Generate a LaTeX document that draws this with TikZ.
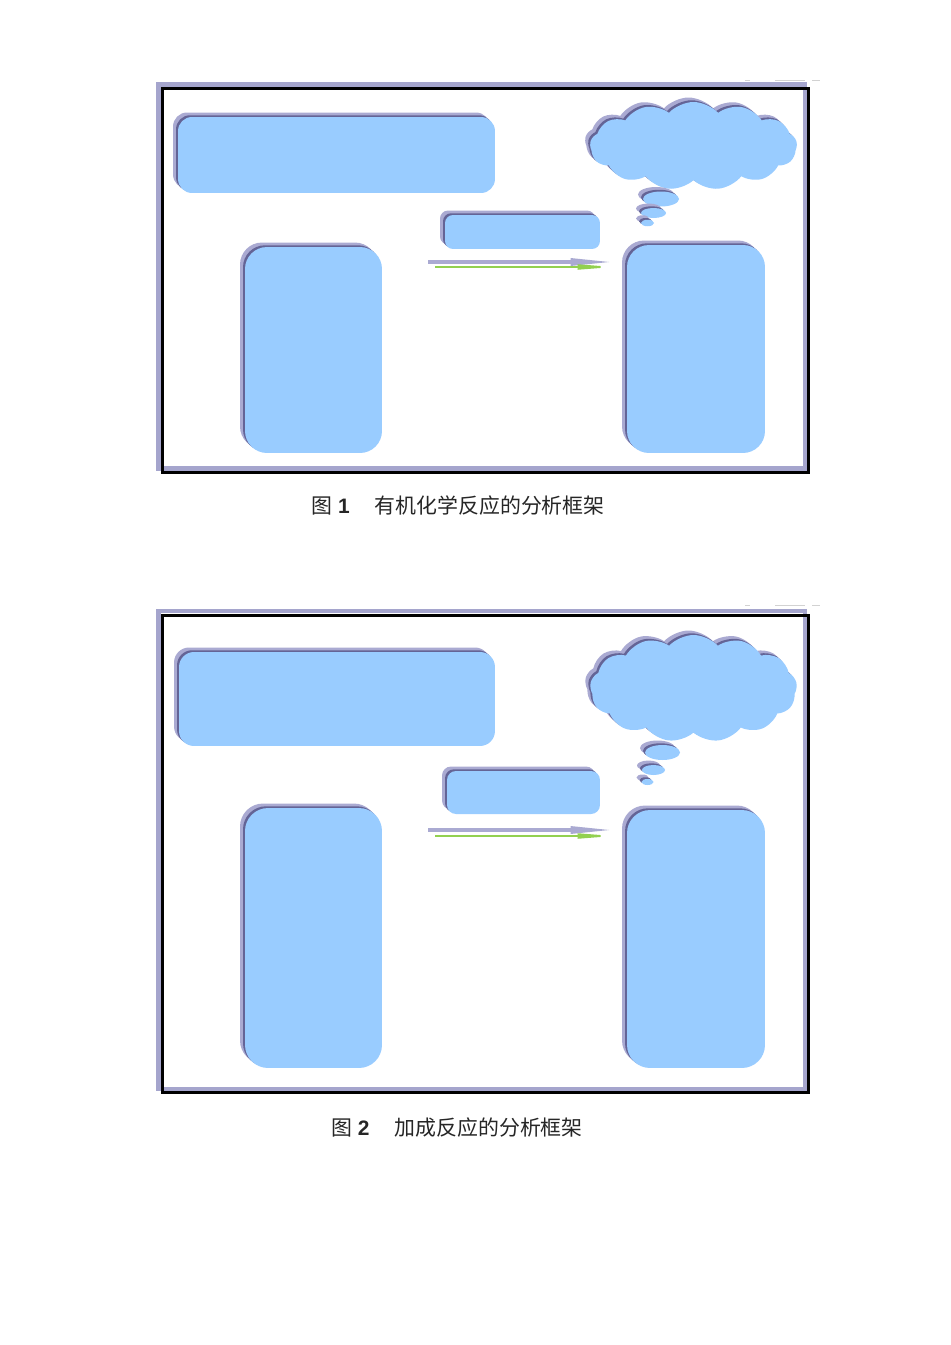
\documentclass[tikz,border=0pt]{standalone}
\usepackage{fontspec}
\setmainfont{Liberation Sans}
\newfontfamily\cjk{Noto Sans CJK SC}
\usetikzlibrary{shapes.symbols,shapes.geometric,shadows,arrows.meta}
\definecolor{boxblue}{RGB}{153,204,255}
\definecolor{shadelight}{RGB}{170,170,210}
\definecolor{shadedark}{RGB}{100,100,150}
\definecolor{framelav}{RGB}{165,165,205}
\definecolor{arrowgreen}{RGB}{146,208,80}

\begin{document}
\begin{tikzpicture}[x=0.02cm, y=-0.02cm,
    shade2/.style={
        general shadow={fill=shadelight, shadow xshift=-0.1cm, shadow yshift=0.09cm},
        general shadow={fill=shadedark, shadow xshift=-0.04cm, shadow yshift=0.035cm}},
    box/.style={shape=rectangle, rounded corners=#1, fill=boxblue, inner sep=0pt, shade2},
    puff/.style={shape=ellipse, fill=boxblue, inner sep=0pt, shade2},
    think/.style={shape=cloud, cloud puffs=13, cloud puff arc=95, cloud ignores aspect,
        fill=boxblue, inner sep=0pt, shade2},
    frame/.style={shape=rectangle, draw=black, line width=1.7pt, inner sep=0pt,
        preaction={draw=framelav, line width=2.6pt, transform canvas={xshift=-0.08cm, yshift=0.08cm}}},
    flow/.style={draw=arrowgreen, line width=1.1pt, -{Triangle[length=0.75cm, width=0.1cm]}},
    flowshade/.style={draw=shadelight, line width=1.8pt, -{Triangle[length=0.85cm, width=0.14cm]}},
    caption/.style={font=\fontsize{11.9pt}{14pt}\selectfont, text=black!85}]
    \useasboundingbox[fill=white] (0,0) rectangle (950,1345);

    % figure 1
    \draw[gray!35, line width=0.5pt] (745,80) -- (750,80) (775,80) -- (805,80) (812,80) -- (820,80);
    \node[frame, minimum width=12.93cm, minimum height=7.68cm] at (485.75,280.5) (F1) {};
    \node[box=0.28cm, minimum width=6.34cm, minimum height=1.52cm] at (336.5,155) (T1) {};
    \node[think, minimum width=4.14cm, minimum height=1.76cm] at (693.5,146) (C1) {};
    \node[puff, minimum width=0.72cm, minimum height=0.3cm] at (661,199) (C1a) {};
    \node[puff, minimum width=0.5cm, minimum height=0.2cm] at (653.5,213) (C1b) {};
    \node[puff, minimum width=0.26cm, minimum height=0.13cm] at (647.5,223) (C1c) {};
    \node[box=0.16cm, minimum width=3.1cm, minimum height=0.68cm] at (522.5,232) (M1) {};
    \node[box=0.44cm, minimum width=2.74cm, minimum height=4.12cm] at (313.5,350) (L1) {};
    \node[box=0.44cm, minimum width=2.76cm, minimum height=4.16cm] at (696,349) (R1) {};
    \coordinate (A1s) at (435,267);
    \coordinate (A1e) at (615,267);
    \draw[flowshade] ([shift={(-7,-5)}]A1s) -- ([shift={(-2,-5)}]A1e);
    \draw[flow] (A1s) -- (A1e);
    \node[caption] at (458,506) (cap1) {{\cjk 图}~\textbf{1}\hspace{1.2em}{\cjk 有机化学反应的分析框架}};

    % figure 2
    \draw[gray!35, line width=0.5pt] (745,605) -- (750,605) (775,605) -- (805,605) (812,605) -- (820,605);
    \node[frame, minimum width=12.93cm, minimum height=9.56cm] at (485.75,854) (F2) {};
    \node[box=0.3cm, minimum width=6.32cm, minimum height=1.88cm] at (337,699) (T2) {};
    \node[think, minimum width=4.14cm, minimum height=2.14cm] at (693.5,688.5) (C2) {};
    \node[puff, minimum width=0.7cm, minimum height=0.3cm] at (662.5,752.5) (C2a) {};
    \node[puff, minimum width=0.46cm, minimum height=0.2cm] at (653.5,770) (C2b) {};
    \node[puff, minimum width=0.24cm, minimum height=0.12cm] at (647.5,782) (C2c) {};
    \node[box=0.18cm, minimum width=3.06cm, minimum height=0.86cm] at (523.5,792.5) (M2) {};
    \node[box=0.46cm, minimum width=2.74cm, minimum height=5.2cm] at (313.5,938) (L2) {};
    \node[box=0.46cm, minimum width=2.76cm, minimum height=5.16cm] at (696,939) (R2) {};
    \coordinate (A2s) at (435,836);
    \coordinate (A2e) at (615,836);
    \draw[flowshade] ([shift={(-7,-6)}]A2s) -- ([shift={(-2,-6)}]A2e);
    \draw[flow] (A2s) -- (A2e);
    \node[caption] at (457,1128) (cap2) {{\cjk 图}~\textbf{2}\hspace{1.2em}{\cjk 加成反应的分析框架}};
\end{tikzpicture}
\end{document}
